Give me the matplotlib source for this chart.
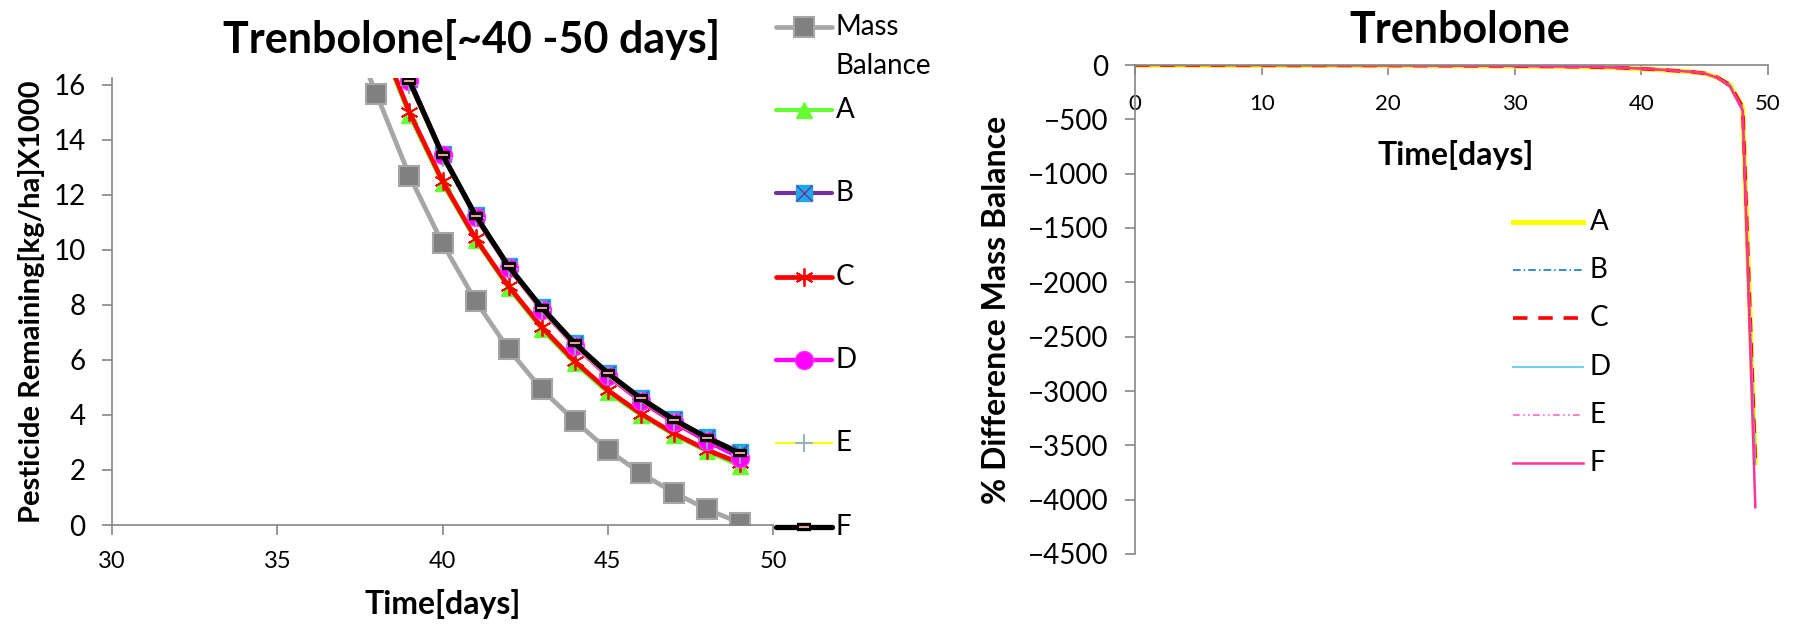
import matplotlib
matplotlib.use("Agg")
import matplotlib.pyplot as plt
from matplotlib.lines import Line2D

W, H = 1796, 626
plt.rcParams["font.family"] = ["Lato", "DejaVu Sans"]

# left chart: pesticide remaining [kg/ha] x1000 against time [days]
days_mb = [37, 38, 39, 40, 41, 42, 43, 44, 45, 46, 47, 48, 49]
mass_balance = [18.6, 15.67, 12.70, 10.24, 8.15, 6.39, 4.93, 3.79, 2.73, 1.88, 1.18, 0.57, 0.08]

days_low = [38, 39, 40, 41, 42, 43, 44, 45, 46, 47, 48, 49]
run_a = [17.9, 14.9, 12.42, 10.36, 8.62, 7.12, 5.88, 4.82, 4.00, 3.28, 2.68, 2.15]
run_c = [18.0, 15.0, 12.50, 10.42, 8.68, 7.20, 5.95, 4.90, 4.05, 3.33, 2.73, 2.25]

days_up = [39, 40, 41, 42, 43, 44, 45, 46, 47, 48, 49]
run_b = [16.20, 13.50, 11.27, 9.42, 7.92, 6.62, 5.52, 4.62, 3.84, 3.20, 2.65]
run_d = [16.15, 13.45, 11.20, 9.35, 7.83, 6.52, 5.42, 4.50, 3.73, 3.05, 2.45]
run_e = [16.00, 13.35, 11.15, 9.30, 7.80, 6.50, 5.42, 4.52, 3.75, 3.10, 2.55]
run_f = [16.15, 13.45, 11.25, 9.40, 7.90, 6.60, 5.52, 4.60, 3.83, 3.17, 2.60]

# right chart: % difference from mass balance
days_pd = [0, 5, 10, 15, 20, 25, 30, 35, 38, 40, 42, 44, 45, 46, 47, 48, 49]
pd_a = [-2, -3, -4, -5, -6, -8, -11, -17, -25, -35, -48, -64, -78, -115, -185, -390, -3660]
pd_b = [-1, -2, -3, -4, -5, -7, -10, -16, -24, -34, -47, -63, -77, -113, -183, -388, -3650]
pd_c = [-1, -2, -3, -4, -5, -7, -10, -16, -24, -34, -47, -63, -77, -113, -183, -388, -3665]
pd_d = [0, -1, -2, -3, -4, -6, -9, -15, -23, -33, -46, -62, -76, -112, -190, -405, -3680]
pd_e = [0, -1, -2, -3, -4, -6, -9, -15, -23, -33, -46, -62, -76, -112, -190, -405, -3670]
pd_f = [0, -1, -2, -3, -4, -6, -9, -15, -23, -33, -46, -63, -78, -118, -200, -420, -4070]

labels = ["A", "B", "C", "D", "E", "F"]

GRID = "#868686"


def fpos(x, y):
    return x / W, 1 - y / H


def style_axes(ax):
    for s in ("top", "right"):
        ax.spines[s].set_visible(False)
    for s in ("left", "bottom"):
        ax.spines[s].set_color(GRID)
        ax.spines[s].set_linewidth(1.2)
    ax.tick_params(colors=GRID, labelcolor="black", length=7, width=1.2)


fig = plt.figure(figsize=(W / 100, H / 100), dpi=100)

# ---------------- left chart ----------------
ax1 = fig.add_axes([112 / W, 1 - 525 / H, 661 / W, 447 / H])
style_axes(ax1)
ax1.set_xlim(30, 50)
ax1.set_ylim(0, 16.25)
ax1.set_xticks(range(30, 51, 5))
ax1.set_yticks(range(0, 17, 2))
ax1.tick_params(axis="y", labelsize=20, pad=12)
ax1.tick_params(axis="x", labelsize=17, pad=12)

left_styles = [
    dict(color="#A6A6A6", lw=3.4, marker="s", ms=14, mfc="#808080", mec="#A6A6A6", mew=1.5),
    dict(color="#66FF33", lw=3.0, marker="^", ms=12, mfc="#66FF33", mec="#66FF33"),
    dict(color="#7030A0", lw=3.0, marker="s", ms=12, mfc="#1FA8E8", mec="#1FA8E8"),
    dict(color="#FF0000", lw=3.4, marker=(6, 2, 0), ms=13, mec="#FF0000", mew=1.3),
    dict(color="#FF00FF", lw=3.2, marker="o", ms=13, mfc="#FF00FF", mec="#FF33FF"),
    dict(color="#FFFF00", lw=1.6, marker="+", ms=13, mec="#8EA9C8", mew=1.3),
    dict(color="#000000", lw=3.8, marker="_", ms=10, mec="#000000", mew=6),
]

ax1.plot(days_mb, mass_balance, **left_styles[0])
ax1.plot(days_low, run_a, **left_styles[1])
ax1.plot(days_up, run_b, **left_styles[2])
ax1.plot(days_up, run_b, ls="none", marker="x", ms=10, mec="#7030A0", mew=1.0)
ax1.plot(days_low, run_c, **left_styles[3])
ax1.plot(days_up, run_d, **left_styles[4])
ax1.plot(days_up, run_e, **left_styles[5])
ax1.plot(days_up, run_f, **left_styles[6])
ax1.plot(days_up, run_f, ls="none", marker="_", ms=7, mec="#E8A0A0", mew=1.5)

ax1.set_xlabel("Time[days]", fontsize=23, fontweight="bold", labelpad=12)
ax1.set_ylabel("Pesticide Remaining[kg/ha]X1000", fontsize=21, fontweight="bold", labelpad=6)
fig.text(*fpos(472, 40), "Trenbolone[~40 -50 days]", ha="center", va="center",
         fontsize=31, fontweight="bold")

# legend for the left chart, drawn by hand to keep Excel's spacing
left_rows = [27, 110, 193, 277, 360, 443, 527]
left_names = ["Mass", "A", "B", "C", "D", "E", "F"]
for y, name, st in zip(left_rows, left_names, left_styles):
    (x0, fy), (xm, _), (x1, _) = fpos(776, y), fpos(804, y), fpos(832, y)
    fig.add_artist(Line2D([x0, xm, x1], [fy] * 3, markevery=[1], solid_capstyle="round",
                          transform=fig.transFigure, **st))
    fig.text(*fpos(836, y), name, ha="left", va="center", fontsize=20)
fig.text(*fpos(836, 66), "Balance", ha="left", va="center", fontsize=20)
bx, by = fpos(804, 193)
fig.add_artist(Line2D([bx], [by], ls="none", marker="x", ms=11, mec="#7030A0",
                      mew=1.0, transform=fig.transFigure))
fx, fy = fpos(804, 527)
fig.add_artist(Line2D([fx], [fy], ls="none", marker="_", ms=7, mec="#E8A0A0",
                      mew=1.5, transform=fig.transFigure))

# ---------------- right chart ----------------
ax2 = fig.add_axes([1135 / W, 1 - 554 / H, 633 / W, 489 / H])
style_axes(ax2)
ax2.set_xlim(0, 50)
ax2.set_ylim(-4500, 0)
ax2.spines["bottom"].set_position(("data", 0))
ax2.set_xticks(range(0, 51, 10))
ax2.set_yticks(range(-4500, 1, 500))
ax2.tick_params(axis="y", labelsize=20, pad=12)
ax2.tick_params(axis="x", labelsize=16, pad=14)

right_styles = [
    dict(color="#FFFF00", lw=3.6, ls="-"),
    dict(color="#0070C0", lw=1.1, ls=(0, (5, 2, 1, 2))),
    dict(color="#FF0000", lw=2.6, ls=(0, (4, 3))),
    dict(color="#4BC8F0", lw=1.2, ls="-"),
    dict(color="#FF66CC", lw=1.2, ls=(0, (4, 2, 1, 2, 1, 2))),
    dict(color="#FF3399", lw=1.8, ls="-"),
]
for vals, st in zip([pd_a, pd_b, pd_c, pd_d, pd_e, pd_f], right_styles):
    ax2.plot(days_pd, vals, **st)

ax2.set_ylabel("% Difference Mass Balance", fontsize=23, fontweight="bold", labelpad=12)
fig.text(*fpos(1456, 155), "Time[days]", ha="center", va="center",
         fontsize=23, fontweight="bold")
fig.text(*fpos(1460, 30), "Trenbolone", ha="center", va="center",
         fontsize=31, fontweight="bold")

right_rows = [222, 270, 318, 367, 415, 463]
for y, name, st in zip(right_rows, labels, right_styles):
    (x0, fy), (x1, _) = fpos(1513, y), fpos(1583, y)
    fig.add_artist(Line2D([x0, x1], [fy] * 2, transform=fig.transFigure, **st))
    fig.text(*fpos(1590, y), name, ha="left", va="center", fontsize=20)

fig.savefig("out.png", dpi=100)
